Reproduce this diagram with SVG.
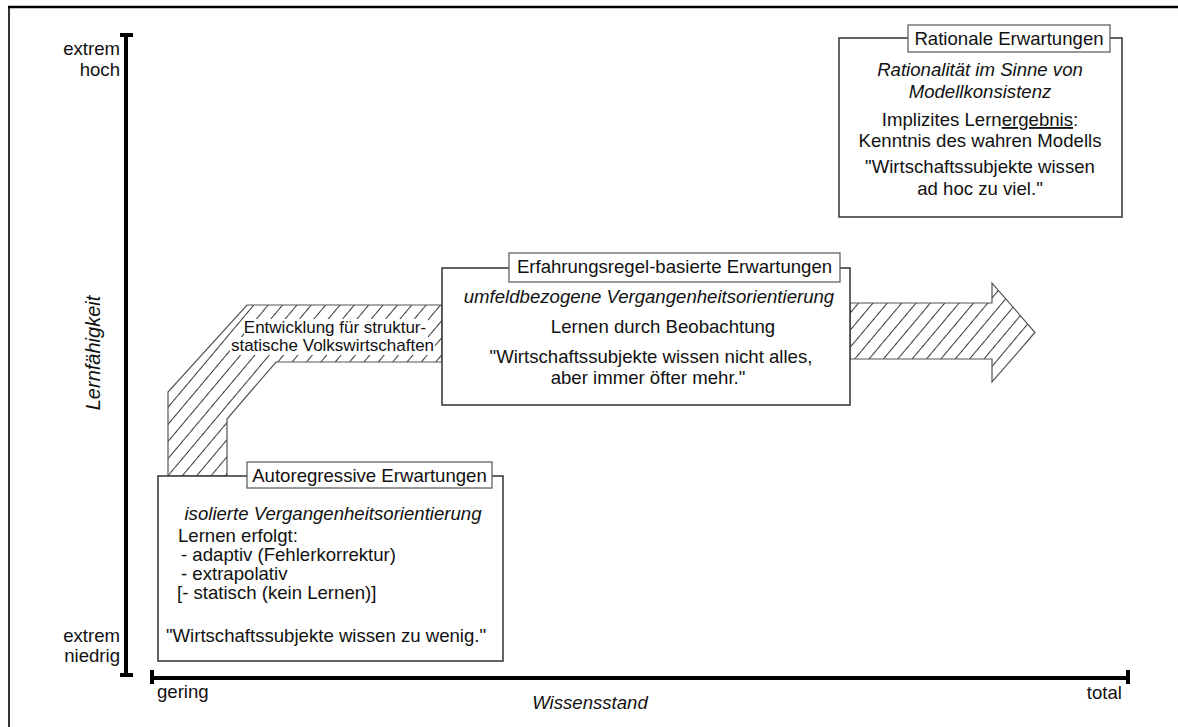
<svg xmlns="http://www.w3.org/2000/svg" width="1178" height="727" viewBox="0 0 1178 727">
<defs>
<style>
text{font-family:"Liberation Sans",Arial,sans-serif;font-size:18.6px;fill:#111}
.it{font-style:italic}
.c{text-anchor:middle}
.r{text-anchor:end}
.box{fill:#fff;stroke:#333;stroke-width:1.5}
.tbox{fill:#fff;stroke:#555;stroke-width:1.2}
.axis{stroke:#000;stroke-width:4;fill:none}
.band{fill:url(#hatch);stroke:#555;stroke-width:1.2}
</style>
<pattern id="hatch" patternUnits="userSpaceOnUse" width="11" height="11" patternTransform="rotate(40)">
<rect width="11" height="11" fill="#fff"/>
<line x1="5.5" y1="0" x2="5.5" y2="11" stroke="#222" stroke-width="0.9"/>
</pattern>
</defs>
<rect width="1178" height="727" fill="#fff"/>
<g id="frame">
<line x1="8" y1="7" x2="1178" y2="7" stroke="#000" stroke-width="2.5"/>
<line x1="9" y1="7" x2="9" y2="727" stroke="#000" stroke-width="1.6"/>
</g>
<g id="axes">
<line class="axis" x1="126" y1="33" x2="126" y2="677"/>
<line class="axis" x1="120" y1="35" x2="133" y2="35"/>
<line class="axis" x1="120" y1="675" x2="133" y2="675"/>
<line class="axis" x1="150" y1="678" x2="1128" y2="678"/>
<line class="axis" x1="152" y1="670" x2="152" y2="684"/>
<line class="axis" x1="1128" y1="670" x2="1128" y2="684"/>
<text class="r" x="120" y="55">extrem<tspan x="120" dy="21">hoch</tspan></text>
<text class="r" x="120" y="642">extrem<tspan x="120" dy="20">niedrig</tspan></text>
<text x="157" y="698">gering</text>
<text class="r" x="1122" y="699">total</text>
<text class="it c" x="590" y="709">Wissensstand</text>
<text class="it c" x="100" y="353" style="font-size:20px" transform="rotate(-90 100 353)">Lernfähigkeit</text>
</g>
<g id="connectors">
<path class="band" d="M168,476 L168,392 L247,305 L442,305 L442,362 L276,362 L227,419 L227,476 Z"/>
<path class="band" d="M850,303 L992,303 L992,283 L1035,332.5 L992,382 L992,359 L850,359 Z"/>
<rect x="244" y="319" width="184" height="18" fill="#fff"/>
<rect x="230" y="337" width="205" height="18" fill="#fff"/>
<text class="c" x="335" y="333" style="font-size:17px">Entwicklung für struktur-<tspan x="332.5" dy="18">statische Volkswirtschaften</tspan></text>
</g>
<g id="rationale">
<rect class="box" x="839" y="38" width="283" height="179"/>
<rect class="tbox" x="908" y="25" width="202" height="27"/>
<text class="c" x="1009" y="45">Rationale Erwartungen</text>
<text class="it c" x="980" y="76">Rationalität im Sinne von<tspan x="980" dy="22">Modellkonsistenz</tspan></text>
<text class="c" x="980" y="126">Implizites Lern<tspan text-decoration="underline">ergebnis</tspan>:<tspan x="980" dy="21">Kenntnis des wahren Modells</tspan></text>
<text class="c" x="980" y="173">"Wirtschaftssubjekte wissen<tspan x="980" dy="22">ad hoc zu viel."</tspan></text>
</g>
<g id="erfahrung">
<rect class="box" x="442" y="268" width="408" height="137"/>
<rect class="tbox" x="509" y="253" width="331" height="29"/>
<text class="c" x="674.5" y="273">Erfahrungsregel-basierte Erwartungen</text>
<text class="it c" x="649" y="303">umfeldbezogene Vergangenheitsorientierung</text>
<text class="c" x="663" y="333">Lernen durch Beobachtung</text>
<text class="c" x="651" y="363">"Wirtschaftssubjekte wissen nicht alles,<tspan x="648" dy="21">aber immer öfter mehr."</tspan></text>
</g>
<g id="autoregressiv">
<rect class="box" x="158" y="476" width="345" height="185"/>
<rect class="tbox" x="247" y="462" width="245" height="26"/>
<text class="c" x="369.5" y="482">Autoregressive Erwartungen</text>
<text class="it c" x="333" y="520">isolierte Vergangenheitsorientierung</text>
<text x="178" y="542">Lernen erfolgt:<tspan x="181" dy="19">- adaptiv (Fehlerkorrektur)</tspan><tspan x="181" dy="19">- extrapolativ</tspan><tspan x="177" dy="19">[- statisch (kein Lernen)]</tspan></text>
<text class="c" x="326" y="642">"Wirtschaftssubjekte wissen zu wenig."</text>
</g>
</svg>
